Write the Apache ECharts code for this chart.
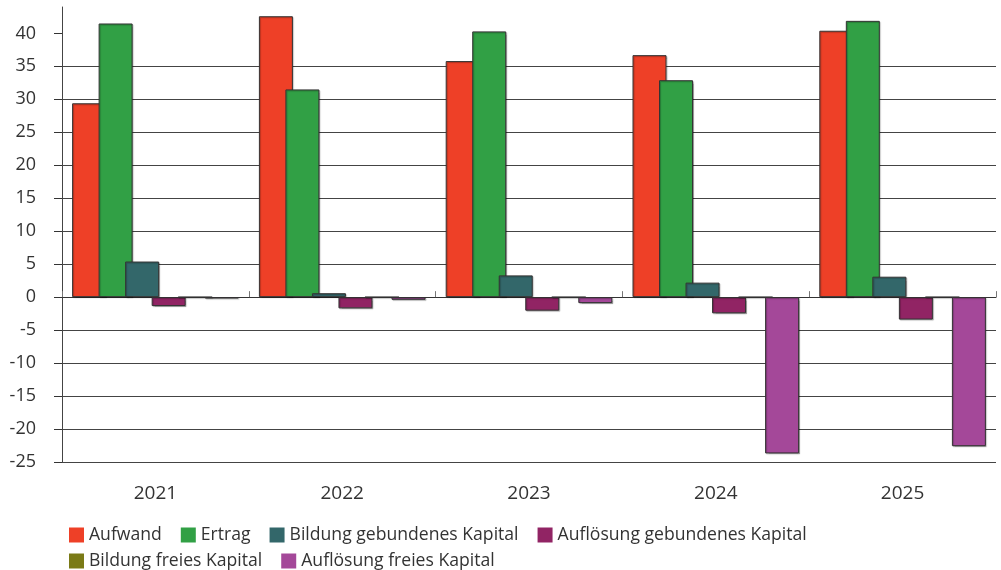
<!DOCTYPE html>
<html>
<head>
<meta charset="utf-8">
<script src="https://cdn.jsdelivr.net/npm/echarts@6/dist/echarts.min.js"></script>
<style>
  html, body { margin: 0; padding: 0; background: #fff; }
  #chart { width: 1001px; height: 570px; }
</style>
</head>
<body>
<div id="chart"></div>
<script>
// Jahre
const years = ['2021', '2022', '2023', '2024', '2025']
// Werte je Serie
const aufwand = [29.4, 42.6, 35.8, 36.7, 40.4]
const ertrag = [41.5, 31.5, 40.3, 32.9, 41.9]
const bildungGebunden = [5.4, 0.6, 3.3, 2.2, 3.1]
const aufloesungGebunden = [-1.35, -1.7, -2.05, -2.45, -3.4]
const bildungFrei = [0, 0, 0, 0, 0]
const aufloesungFrei = [-0.2, -0.4, -0.9, -23.7, -22.6]
// y-Achse
const yTicks = [-25, -20, -15, -10, -5, 0, 5, 10, 15, 20, 25, 30, 35, 40]

const font = '"Open Sans", sans-serif'
const textColor = '#333'

const seriesDefs = [
  { name: 'Aufwand', data: aufwand, color: '#ee4027' },
  { name: 'Ertrag', data: ertrag, color: '#31a045' },
  { name: 'Bildung gebundenes Kapital', data: bildungGebunden, color: '#33676a' },
  { name: 'Auflösung gebundenes Kapital', data: aufloesungGebunden, color: '#912464' },
  { name: 'Bildung freies Kapital', data: bildungFrei, color: '#7a7a16' },
  { name: 'Auflösung freies Kapital', data: aufloesungFrei, color: '#a44899' }
]

const chart = echarts.init(document.getElementById('chart'))

const legendBase = {
  left: 64,
  itemWidth: 15,
  itemHeight: 15,
  itemGap: 19,
  icon: 'rect',
  itemStyle: { borderWidth: 0, shadowBlur: 0, shadowOffsetX: 0, shadowOffsetY: 0 },
  textStyle: { fontFamily: font, fontSize: 17.6, color: textColor },
  selectedMode: false
}

const option = {
  animation: false,
  grid: { left: 62, right: 5, top: 7, bottom: 108 },
  legend: [
    Object.assign({}, legendBase, { top: 521, data: seriesDefs.slice(0, 4).map(s => s.name) }),
    Object.assign({}, legendBase, { top: 547, data: seriesDefs.slice(4).map(s => s.name) })
  ],
  xAxis: [
    {
      type: 'category',
      data: years,
      axisLine: { show: false, onZero: false },
      axisTick: { show: false },
      axisLabel: { fontFamily: font, fontSize: 19, color: textColor, margin: 22 }
    },
    {
      type: 'category',
      data: years,
      axisLine: { onZero: true, lineStyle: { color: '#333', width: 1 } },
      axisTick: { show: true, length: 6, lineStyle: { color: '#777' } },
      axisLabel: { show: false }
    }
  ],
  yAxis: {
    type: 'value',
    min: -25,
    max: 44,
    interval: 5,
    axisLine: { show: true, lineStyle: { color: '#444' } },
    axisTick: { show: true, length: 8, lineStyle: { color: '#333' }, customValues: yTicks },
    axisLabel: {
      fontFamily: font, fontSize: 18, color: textColor, margin: 26,
      customValues: yTicks
    },
    splitLine: { show: true, showMaxLine: false, lineStyle: { color: '#444', width: 1 } }
  },
  series: seriesDefs.map(s => ({
    name: s.name,
    type: 'bar',
    data: s.data,
    barWidth: 34,
    barGap: '-22%',
    itemStyle: {
      color: s.color,
      borderColor: '#333',
      borderWidth: 1,
      shadowColor: 'rgba(0,0,0,0.25)',
      shadowOffsetX: 1,
      shadowOffsetY: 1,
      shadowBlur: 1
    }
  }))
}

chart.setOption(option)
</script>
</body>
</html>
